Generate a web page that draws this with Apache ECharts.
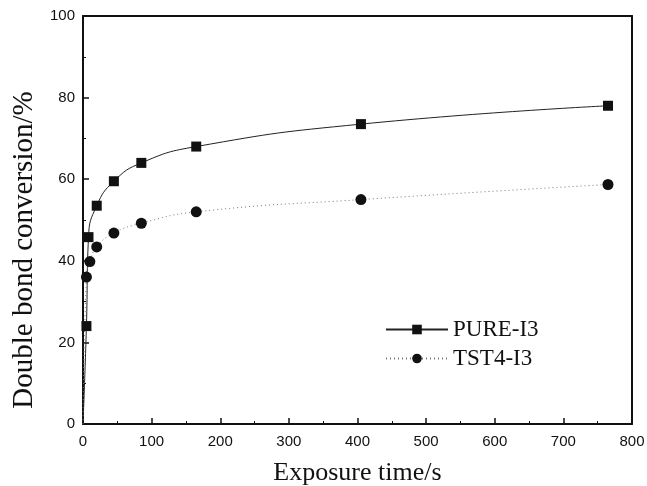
<!DOCTYPE html>
<html><head><meta charset="utf-8">
<script src="https://cdn.jsdelivr.net/npm/echarts@6/dist/echarts.min.js"></script>
<style>html,body{margin:0;padding:0;background:#fff}#c{width:647px;height:486px}</style>
</head><body><div id="c"></div>
<script>
var timePure = [0, 5, 8, 20, 45, 85, 165, 405, 765];
var valuePure = [0, 24, 45.8, 53.5, 59.5, 64, 68, 73.5, 78];
var timeTst = [0, 5, 10, 20, 45, 85, 165, 405, 765];
var valueTst = [0, 36, 39.8, 43.4, 46.8, 49.2, 52, 55, 58.7];
var seriesNames = ['PURE-I3', 'TST4-I3'];
var xTicks = [0, 100, 200, 300, 400, 500, 600, 700, 800];
var yTicks = [0, 20, 40, 60, 80, 100];

function build(t, v) {
  return t.map(function (x, i) {
    var d = { value: [x, v[i]] };
    if (x === 0) d.symbol = 'none';
    return d;
  });
}

var chart = echarts.init(document.getElementById('c'));
var sans = 'Liberation Sans', serif = 'Liberation Serif';
chart.setOption({
  animation: false,
  grid: { left: 83, right: 15, top: 16, bottom: 62, containLabel: false, outerBoundsMode: 'none' },
  legend: {
    orient: 'vertical', left: 380, top: 313, itemWidth: 62, itemHeight: 12, itemGap: 6,
    data: seriesNames,
    textStyle: { fontFamily: serif, fontSize: 23, color: '#111' }
  },
  xAxis: [{
    type: 'value', min: xTicks[0], max: xTicks[xTicks.length - 1], interval: 100,
    name: 'Exposure time/s', nameLocation: 'middle', nameGap: 36,
    nameTextStyle: { fontFamily: serif, fontSize: 26, color: '#111' },
    axisLine: { onZero: false, lineStyle: { color: '#111', width: 2 } },
    axisTick: { inside: true, length: 6, lineStyle: { color: '#111', width: 1.5 } },
    minorTick: { show: true, splitNumber: 2, length: 3, lineStyle: { color: '#111' } },
    axisLabel: { fontFamily: sans, fontSize: 15, color: '#111', margin: 10 },
    splitLine: { show: false }
  }, {
    type: 'value', position: 'top', min: 0, max: 800,
    axisLine: { show: true, onZero: false, lineStyle: { color: '#111', width: 2 } },
    axisTick: { show: false }, axisLabel: { show: false }, splitLine: { show: false }
  }],
  yAxis: [{
    type: 'value', min: yTicks[0], max: yTicks[yTicks.length - 1], interval: 20,
    name: 'Double bond conversion/%', nameLocation: 'middle', nameGap: 43,
    nameTextStyle: { fontFamily: serif, fontSize: 29, color: '#111', padding: [0, 60, 0, 0] },
    axisLine: { show: true, onZero: false, lineStyle: { color: '#111', width: 2 } },
    axisTick: { show: true, inside: true, length: 6, lineStyle: { color: '#111', width: 1.5 } },
    minorTick: { show: true, splitNumber: 2, length: 3, lineStyle: { color: '#111' } },
    axisLabel: { fontFamily: sans, fontSize: 15, color: '#111', margin: 8 },
    splitLine: { show: false }
  }, {
    type: 'value', position: 'right', min: 0, max: 100,
    axisLine: { show: true, onZero: false, lineStyle: { color: '#111', width: 2 } },
    axisTick: { show: false }, axisLabel: { show: false }, splitLine: { show: false }
  }],
  series: [{
    name: seriesNames[0], type: 'line', data: build(timePure, valuePure),
    smooth: 0.5,
    symbol: 'rect', symbolSize: 10,
    lineStyle: { color: '#222', width: 1 },
    itemStyle: { color: '#111' }
  }, {
    name: seriesNames[1], type: 'line', data: build(timeTst, valueTst),
    smooth: 0.5,
    symbol: 'circle', symbolSize: 11,
    lineStyle: { color: '#777', width: 1, type: [1, 3] },
    itemStyle: { color: '#111' }
  }]
});
</script></body></html>
